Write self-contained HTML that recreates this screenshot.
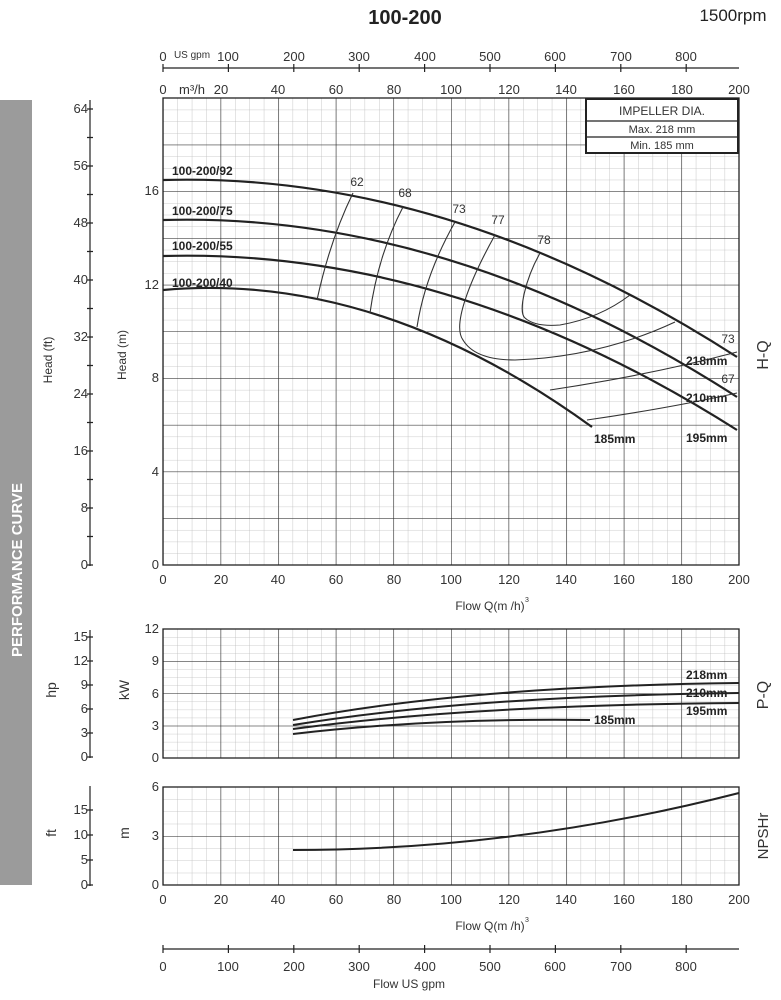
<!DOCTYPE html>
<html><head><meta charset="utf-8"><style>
body{margin:0;background:#fff}
svg{display:block;font-family:"Liberation Sans",sans-serif}
</style></head><body>
<svg width="781" height="1000" viewBox="0 0 781 1000" xmlns="http://www.w3.org/2000/svg">
<defs>
<pattern id="mh" x="163" y="98" width="14.4" height="11.675" patternUnits="userSpaceOnUse"><path d="M0,0V11.675M0,0H14.4" stroke="#bbb" stroke-width="0.8" fill="none"/></pattern>
<pattern id="Mh" x="163" y="98" width="57.6" height="46.7" patternUnits="userSpaceOnUse"><path d="M0,0V46.7M0,0H57.6" stroke="#222" stroke-width="1.1" fill="none"/></pattern>
<pattern id="mp" x="163" y="629" width="14.4" height="8.0625" patternUnits="userSpaceOnUse"><path d="M0,0V8.0625M0,0H14.4" stroke="#bbb" stroke-width="0.8" fill="none"/></pattern>
<pattern id="Mp" x="163" y="629" width="57.6" height="32.25" patternUnits="userSpaceOnUse"><path d="M0,0V32.25M0,0H57.6" stroke="#222" stroke-width="1.1" fill="none"/></pattern>
<pattern id="mn" x="163" y="787" width="14.4" height="12.25" patternUnits="userSpaceOnUse"><path d="M0,0V12.25M0,0H14.4" stroke="#bbb" stroke-width="0.8" fill="none"/></pattern>
<pattern id="Mn" x="163" y="787" width="57.6" height="49" patternUnits="userSpaceOnUse"><path d="M0,0V49M0,0H57.6" stroke="#222" stroke-width="1.1" fill="none"/></pattern>
</defs>

<!-- gray band -->
<rect x="0" y="100" width="32" height="785" fill="#9b9b9b"/>
<text transform="translate(22,570) rotate(-90)" text-anchor="middle" font-size="15" font-weight="bold" fill="#fff">PERFORMANCE CURVE</text>

<!-- titles -->
<text x="405" y="24" text-anchor="middle" font-size="20" font-weight="bold" fill="#222">100-200</text>
<text x="733" y="21" text-anchor="middle" font-size="17" fill="#222">1500rpm</text>

<!-- top gpm axis -->
<g stroke="#222" stroke-width="1.2" fill="none">
<path d="M163,68H739"/>
<path d="M163,64v8M228.4,64v8M293.8,64v8M359.2,64v8M424.6,64v8M490,64v8M555.4,64v8M620.8,64v8M686.2,64v8"/>
</g>
<g font-size="13" fill="#333" text-anchor="middle">
<text x="163" y="61">0</text><text x="228" y="61">100</text><text x="294" y="61">200</text><text x="359" y="61">300</text><text x="425" y="61">400</text><text x="490" y="61">500</text><text x="555" y="61">600</text><text x="621" y="61">700</text><text x="686" y="61">800</text>
<text x="192" y="58" font-size="10">US gpm</text>
<text x="163" y="94">0</text><text x="192" y="94">m³/h</text><text x="221" y="94">20</text><text x="278" y="94">40</text><text x="336" y="94">60</text><text x="394" y="94">80</text><text x="451" y="94">100</text><text x="509" y="94">120</text><text x="566" y="94">140</text><text x="624" y="94">160</text><text x="682" y="94">180</text><text x="739" y="94">200</text>
</g>

<!-- H-Q grid -->
<rect x="163" y="98" width="576" height="467" fill="url(#mh)"/>
<rect x="163" y="98" width="576" height="467" fill="url(#Mh)"/>
<rect x="163" y="98" width="576" height="467" fill="none" stroke="#222" stroke-width="1.3"/>
<!-- P-Q grid -->
<rect x="163" y="629" width="576" height="129" fill="url(#mp)"/>
<rect x="163" y="629" width="576" height="129" fill="url(#Mp)"/>
<rect x="163" y="629" width="576" height="129" fill="none" stroke="#222" stroke-width="1.3"/>
<!-- NPSH grid -->
<rect x="163" y="787" width="576" height="98" fill="url(#mn)"/>
<rect x="163" y="787" width="576" height="98" fill="url(#Mn)"/>
<rect x="163" y="787" width="576" height="98" fill="none" stroke="#222" stroke-width="1.3"/>

<!-- impeller box -->
<g stroke="#222" fill="#fff">
<rect x="586" y="99" width="152" height="54" stroke-width="2"/>
<path d="M586,121H738M586,137H738" stroke-width="1.2"/>
</g>
<g font-size="11" fill="#333" text-anchor="middle">
<text x="662" y="115" font-size="12">IMPELLER DIA.</text>
<text x="662" y="133">Max.  218  mm</text>
<text x="662" y="149">Min.   185  mm</text>
</g>

<!-- left ft axis -->
<g stroke="#222" stroke-width="1.2" fill="none">
<path d="M90,100V566"/>
<path d="M87,565h6M87,536.5h6M87,508h6M87,479.5h6M87,451h6M87,422.5h6M87,394h6M87,365.5h6M87,337h6M87,308.5h6M87,280h6M87,251.5h6M87,223h6M87,194.5h6M87,166h6M87,137.5h6M87,109h6"/>
<path d="M90,630V758M87,757h6M87,733h6M87,709h6M87,685h6M87,661h6M87,637h6"/>
<path d="M90,786V886M87,885h6M87,860h6M87,835h6M87,810h6"/>
</g>
<g font-size="13" fill="#333" text-anchor="end">
<text x="88" y="569">0</text><text x="88" y="512">8</text><text x="88" y="455">16</text><text x="88" y="398">24</text><text x="88" y="341">32</text><text x="88" y="284">40</text><text x="88" y="227">48</text><text x="88" y="170">56</text><text x="88" y="113">64</text>
<text x="88" y="761">0</text><text x="88" y="737">3</text><text x="88" y="713">6</text><text x="88" y="689">9</text><text x="88" y="665">12</text><text x="88" y="641">15</text>
<text x="88" y="889">0</text><text x="88" y="864">5</text><text x="88" y="839">10</text><text x="88" y="814">15</text>
<text x="159" y="569">0</text><text x="159" y="476">4</text><text x="159" y="382">8</text><text x="159" y="289">12</text><text x="159" y="195">16</text>
<text x="159" y="762">0</text><text x="159" y="730">3</text><text x="159" y="698">6</text><text x="159" y="665">9</text><text x="159" y="633">12</text>
<text x="159" y="889">0</text><text x="159" y="840">3</text><text x="159" y="791">6</text>
</g>
<g font-size="12" fill="#333" text-anchor="middle">
<text transform="translate(52,360) rotate(-90)">Head (ft)</text>
<text transform="translate(126,355) rotate(-90)">Head (m)</text>
<text transform="translate(56,690) rotate(-90)" font-size="14">hp</text>
<text transform="translate(129,690) rotate(-90)" font-size="14">kW</text>
<text transform="translate(56,833) rotate(-90)" font-size="14">ft</text>
<text transform="translate(129,833) rotate(-90)" font-size="14">m</text>
<text transform="translate(768,355) rotate(-90)" font-size="16">H-Q</text>
<text transform="translate(768,695) rotate(-90)" font-size="16">P-Q</text>
<text transform="translate(768,836) rotate(-90)" font-size="15">NPSHr</text>
</g>

<!-- bottom x labels -->
<g font-size="13" fill="#333" text-anchor="middle">
<text x="163" y="584">0</text><text x="221" y="584">20</text><text x="278" y="584">40</text><text x="336" y="584">60</text><text x="394" y="584">80</text><text x="451" y="584">100</text><text x="509" y="584">120</text><text x="566" y="584">140</text><text x="624" y="584">160</text><text x="682" y="584">180</text><text x="739" y="584">200</text>
<text x="490" y="610" font-size="12">Flow  Q(m /h)</text><text x="527" y="602" font-size="7">3</text>
<text x="163" y="904">0</text><text x="221" y="904">20</text><text x="278" y="904">40</text><text x="336" y="904">60</text><text x="394" y="904">80</text><text x="451" y="904">100</text><text x="509" y="904">120</text><text x="566" y="904">140</text><text x="624" y="904">160</text><text x="682" y="904">180</text><text x="739" y="904">200</text>
<text x="490" y="930" font-size="12">Flow  Q(m /h)</text><text x="527" y="922" font-size="7">3</text>
<text x="163" y="971">0</text><text x="228" y="971">100</text><text x="294" y="971">200</text><text x="359" y="971">300</text><text x="425" y="971">400</text><text x="490" y="971">500</text><text x="555" y="971">600</text><text x="621" y="971">700</text><text x="686" y="971">800</text>
<text x="409" y="988" font-size="12">Flow   US gpm</text>
</g>
<g stroke="#222" stroke-width="1.2" fill="none">
<path d="M163,949H739"/>
<path d="M163,945v8M228.4,945v8M293.8,945v8M359.2,945v8M424.6,945v8M490,945v8M555.4,945v8M620.8,945v8M686.2,945v8"/>
</g>

<!-- H-Q curves -->
<g stroke="#222" stroke-width="2.2" fill="none">
<path d="M163,180 Q450,172 737,357"/>
<path d="M163,220 Q450,212 737,397"/>
<path d="M163,256 Q450,248 737,430"/>
<path d="M163,290 Q377,271 592,427"/>
</g>
<g stroke="#333" stroke-width="1.1" fill="none">
<path d="M353,193 Q330,240 317,300"/>
<path d="M403,207 Q378,255 370,313"/>
<path d="M455,222 Q425,275 417,327"/>
<path d="M495,235 C470,280 452,325 463,340 Q475,360 515,360 Q600,357 675,322"/>
<path d="M540,253 C525,280 518,312 525,318 Q535,327 560,325 Q600,318 630,295"/>
<path d="M550,390 Q650,375 737,352"/>
<path d="M587,420 Q670,408 737,393"/>
</g>
<g font-size="12" fill="#333" text-anchor="middle">
<text x="357" y="186">62</text><text x="405" y="197">68</text><text x="459" y="213">73</text><text x="498" y="224">77</text><text x="544" y="244">78</text>
<text x="728" y="343">73</text><text x="728" y="383">67</text>
</g>
<g font-size="12" font-weight="bold" fill="#222">
<text x="172" y="175">100-200/92</text>
<text x="172" y="215">100-200/75</text>
<text x="172" y="250">100-200/55</text>
<text x="172" y="287">100-200/40</text>
<text x="686" y="365">218mm</text>
<text x="686" y="402">210mm</text>
<text x="686" y="442">195mm</text>
<text x="594" y="443">185mm</text>
</g>

<!-- P-Q curves -->
<g stroke="#222" stroke-width="2" fill="none">
<path d="M293,720 Q470,686 739,683"/>
<path d="M293,725 Q470,696 739,693"/>
<path d="M293,729 Q470,705 739,703"/>
<path d="M293,734 Q430,718 590,720"/>
</g>
<g font-size="12" font-weight="bold" fill="#222">
<text x="686" y="679">218mm</text>
<text x="686" y="697">210mm</text>
<text x="686" y="715">195mm</text>
<text x="594" y="724">185mm</text>
</g>

<!-- NPSH curve -->
<path d="M293,850 Q516,850 739,793" stroke="#222" stroke-width="2" fill="none"/>
</svg>
</body></html>
